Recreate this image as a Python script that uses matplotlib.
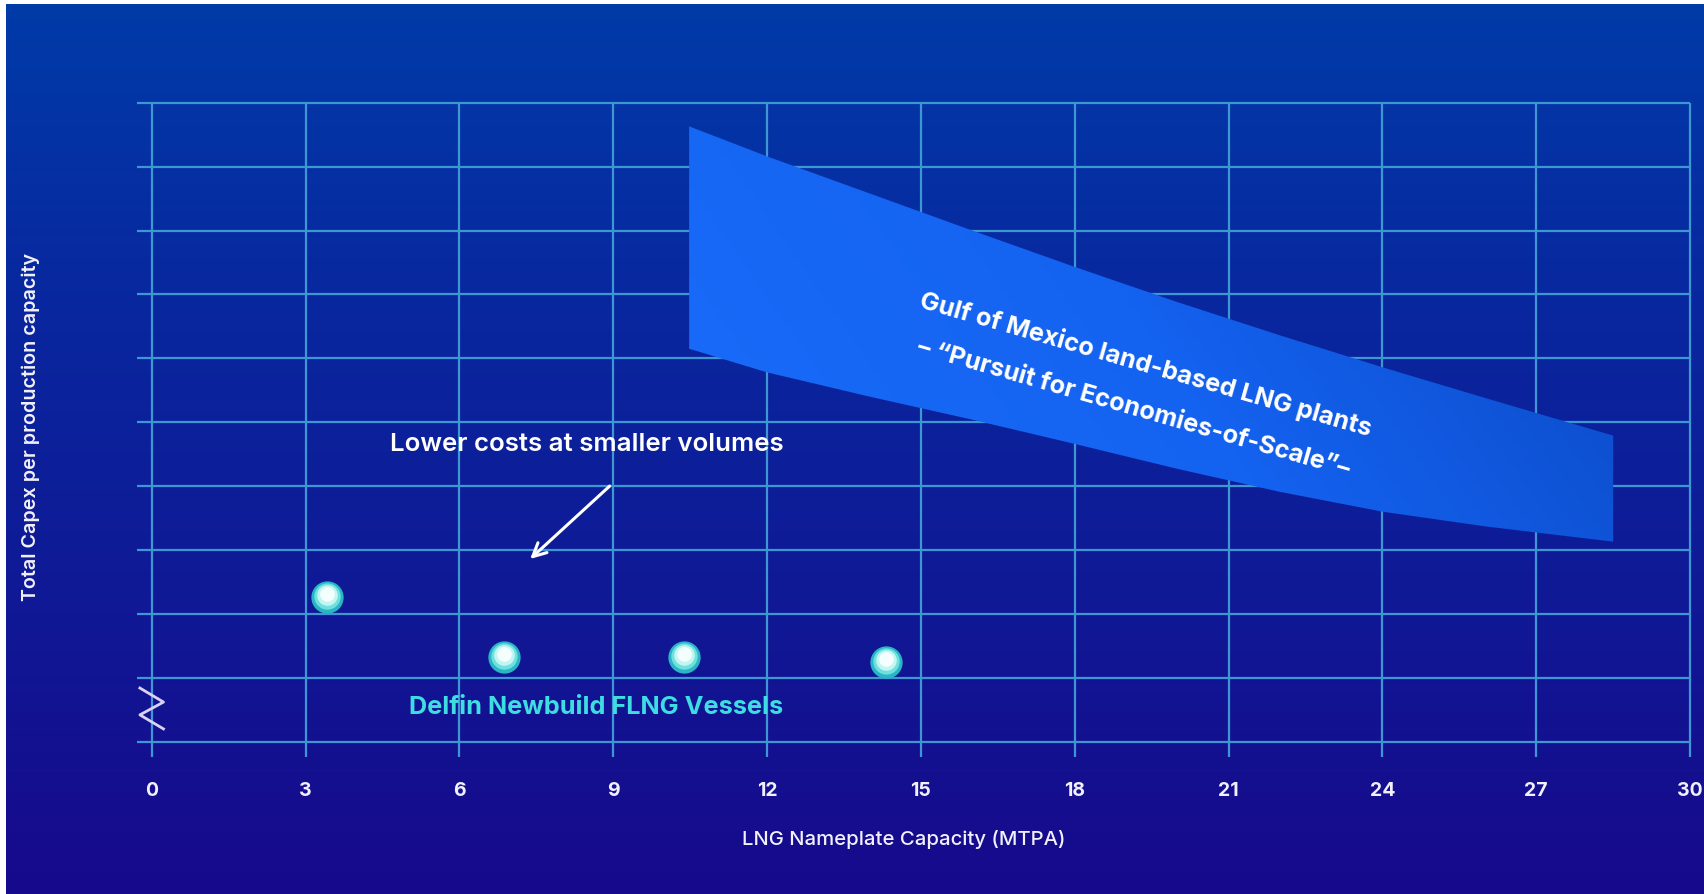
import matplotlib
matplotlib.use("Agg")
import matplotlib.pyplot as plt
import numpy as np
from matplotlib.colors import LinearSegmentedColormap
from matplotlib.patches import Polygon
from matplotlib.transforms import offset_copy

plt.rcParams['font.family'] = ['Inter', 'DejaVu Sans']

# data
x_ticks = [0, 3, 6, 9, 12, 15, 18, 21, 24, 27, 30]
y_grid = list(range(0, 11))

delfin_x = [3.41, 6.87, 10.39, 14.31]
delfin_y = [2.26, 1.32, 1.33, 1.25]

band_x = [10.48, 12, 14, 16, 18, 20, 22, 24, 26, 28.5]
band_upper = [9.63, 9.16, 8.58, 8.00, 7.43, 6.88, 6.36, 5.86, 5.38, 4.79]
band_lower = [6.15, 5.78, 5.40, 5.04, 4.66, 4.27, 3.91, 3.60, 3.37, 3.13]

break_x = [-0.23, 0.23, -0.23, 0.23]
break_y = [0.84, 0.62, 0.42, 0.20]

W, H = 1704, 895
fig = plt.figure(figsize=(W / 100, H / 100), dpi=100, facecolor='white')

# gradient background (small white border at top/left like the screenshot)
bg = fig.add_axes([6 / W, 0, 1 - 6 / W, 1 - 5 / H])
bg_cmap = LinearSegmentedColormap.from_list(
    'bg', [(0, '#003ba8'), (0.3, '#0829a0'), (1, '#170a8c')])
bg.imshow(np.linspace(0, 1, 256).reshape(-1, 1), aspect='auto', cmap=bg_cmap,
          extent=[0, 1, 0, 1])
bg.set_axis_off()

# main axes, placed so the grid lands where it is in the reference
x0, x1 = -0.5, 30.2
y0, y1 = -0.4, 10.1
pxu_x, pxu_y = 51.28, 63.9
left_px = 151.7 + x0 * pxu_x
right_px = 151.7 + x1 * pxu_x
bot_px = 742.7 - y0 * pxu_y
top_px = 742.7 - y1 * pxu_y
ax = fig.add_axes([left_px / W, (H - bot_px) / H,
                   (right_px - left_px) / W, (bot_px - top_px) / H])
ax.set_facecolor('none')
for s in ax.spines.values():
    s.set_visible(False)

grid_c = '#3c97d2'
ax.hlines(y_grid, -0.29, 30, color=grid_c, lw=1.6, zorder=1)
ax.vlines(x_ticks, -0.24, 10, color=grid_c, lw=1.6, zorder=1)

ax.set_xticks(x_ticks)
ax.set_xticklabels([str(t) for t in x_ticks])
ax.set_yticks([])
ax.tick_params(axis='x', length=0, pad=10, labelsize=14, labelcolor='#f2f0fa')
for lab in ax.get_xticklabels():
    lab.set_fontweight('bold')

# band with gradient fill
verts = np.column_stack([band_x + band_x[::-1], band_upper + band_lower[::-1]])
band = Polygon(verts, closed=True, facecolor='none', edgecolor='none')
ax.add_patch(band)
gx, gy = np.meshgrid(np.linspace(0, 1, 200), np.linspace(0, 1, 100))
band_cmap = LinearSegmentedColormap.from_list('band', ['#1a6cfa', '#1462f0', '#0a47c0'])
im = ax.imshow(0.8 * gx + 0.25 * gy, aspect='auto', cmap=band_cmap, zorder=2,
               origin='lower', vmin=0, vmax=1.05,
               extent=[min(band_x), max(band_x), min(band_lower), max(band_upper)])
im.set_clip_path(band)
ax.set_xlim(x0, x1)
ax.set_ylim(y0, y1)

ax.text(15.0, 6.93, 'Gulf of Mexico land-based LNG plants', rotation=-16,
        rotation_mode='anchor', ha='left', va='center', color='white',
        fontsize=18.2, fontweight='bold', zorder=3)
ax.text(14.94, 6.20, '– “Pursuit for Economies-of-Scale”–', rotation=-16,
        rotation_mode='anchor', ha='left', va='center', color='white',
        fontsize=18.2, fontweight='bold', zorder=3)

# Delfin markers, layered to look like glossy beads
ax.scatter(delfin_x, delfin_y, s=540, color='#28b6c4', zorder=4, linewidths=0)
ax.scatter(delfin_x, delfin_y, s=360, color='#6fdfe0', zorder=5, linewidths=0,
           transform=offset_copy(ax.transData, fig, x=0, y=1, units='dots'))
ax.scatter(delfin_x, delfin_y, s=220, color='#c2f6f1', zorder=6, linewidths=0,
           transform=offset_copy(ax.transData, fig, x=0, y=2, units='dots'))
ax.scatter(delfin_x, delfin_y, s=110, color='#f4fffd', zorder=7, linewidths=0,
           transform=offset_copy(ax.transData, fig, x=0, y=3, units='dots'))

ax.text(8.66, 0.55, 'Delfin Newbuild FLNG Vessels', ha='center', va='center',
        color='#3ddde2', fontsize=18.2, fontweight='bold', zorder=4)

ax.text(8.48, 4.66, 'Lower costs at smaller volumes', ha='center', va='center',
        color='white', fontsize=18.6, fontweight='semibold', zorder=4)
ax.annotate('', xy=(7.34, 2.83), xytext=(8.97, 4.03),
            arrowprops=dict(arrowstyle='->', color='white', lw=2.2,
                            mutation_scale=24), zorder=4)

# axis break mark
ax.plot(break_x, break_y, color='#d9d2f2', lw=2, zorder=4, clip_on=False)

fig.text(904 / W, 1 - 840 / H, 'LNG Nameplate Capacity (MTPA)', ha='center',
         va='center', color='#f2f0fa', fontsize=14.6, fontweight='medium')
fig.text(31 / W, 1 - 427 / H, 'Total Capex per production capacity', ha='center',
         va='center', rotation=90, color='#f2f0fa', fontsize=14.2, fontweight='semibold')

fig.savefig('out.png', dpi=100, facecolor=fig.get_facecolor())
